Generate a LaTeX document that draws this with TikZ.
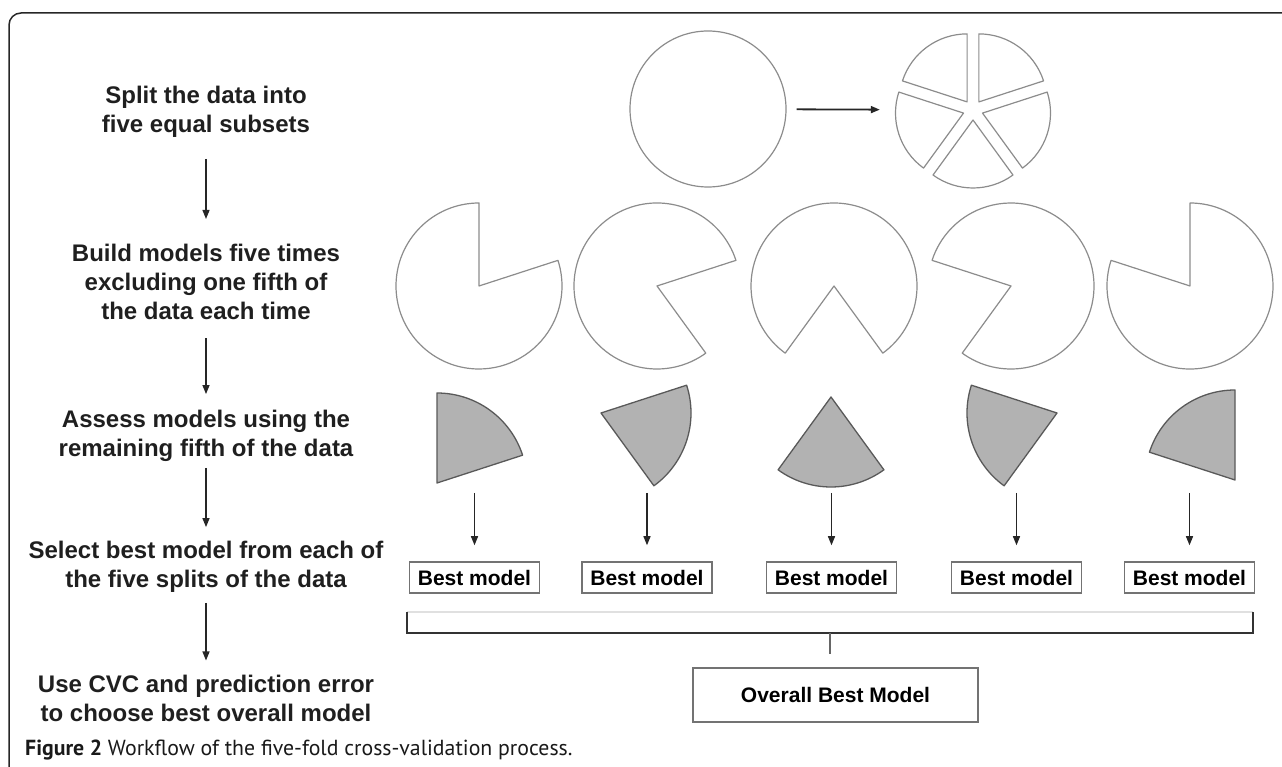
\documentclass[tikz,border=0pt]{standalone}
\usepackage{fontspec}
\setmainfont{Liberation Sans}
\newfontfamily\captionfont{PT Sans}
\usetikzlibrary{arrows.meta}

\begin{document}
\begin{tikzpicture}
[x=1pt,y=1pt,
 steptext/.style={font=\bfseries\fontsize{24}{29}\selectfont,align=center,inner sep=0pt,text=black!88},
 flow/.style={-{Triangle[length=9pt,width=7pt]},line width=1.3pt,black!85},
 piece/.style={draw=black!45,line width=1.2pt,fill=white,line join=round},
 slice/.style={draw=black!65,line width=1.3pt,fill=black!30,line join=round},
 bestbox/.style={draw=black!55,line width=1.5pt,minimum width=130pt,minimum height=31pt,inner sep=0pt,font=\bfseries\fontsize{21}{24}\selectfont},
 overallbox/.style={draw=black!55,line width=1.5pt,minimum width=285pt,minimum height=54pt,inner sep=0pt,font=\bfseries\fontsize{21}{24}\selectfont},
 bracket/.style={line width=1.4pt,black!80}]
\useasboundingbox (0,0) rectangle (1282,766);
\clip (0,0) rectangle (1282,766);
%% frame of the figure
\draw[line width=1.5pt,black!85,rounded corners=12pt] (9,-20) rectangle (1300,753);

%% steps of the workflow
\node[steptext] (step1) at (206,654) {Split the data into\\five equal subsets};
\node[steptext] (step2) at (206,484) {Build models five times\\excluding one fifth of\\the data each time};
\node[steptext] (step3) at (206,330) {Assess models using the\\remaining fifth of the data};
\node[steptext] (step4) at (206,199) {Select best model from each of\\the five splits of the data};
\node[steptext] (step5) at (206,68) {Use CVC and prediction error\\to choose best overall model};
\foreach \a/\b/\s/\e in {step1/step2/21/25, step2/step3/18/16, step3/step4/6/14, step4/step5/10/14} {
  \draw[flow,shorten <=\s pt,shorten >=\e pt] (\a) -- (\b);
}

%% the data and its five subsets
\node[circle,draw=black!45,line width=1.2pt,minimum size=156pt,inner sep=0pt] (whole) at (708,657) {};
\node[circle,minimum size=160pt,inner sep=0pt] (split) at (973,656) {};
\draw[flow,line width=1.8pt,shorten <=10pt,shorten >=13pt] (whole) -- (split);
\foreach \s in {18,90,162,234,306} {
  \draw[piece] (split.center) ++(\s+36:10) -- ++(\s:68)
    arc[start angle=\s,end angle=\s+72,radius=68] -- cycle;
}

%% models built without one fifth
\foreach \x/\s in {479/18, 657/-54, 834/234, 1011/162, 1190/90} {
  \draw[piece] (\x,480) -- ++(\s+72:83)
    arc[start angle=\s+72,end angle=\s+360,radius=83] -- cycle;
}

%% fifth left out for assessment
\foreach \x/\y/\s in {437/283/18, 601/353/-54, 831/369/234, 1057/353/162, 1235/286/90} {
  \draw[slice] (\x,\y) -- ++(\s:90)
    arc[start angle=\s,end angle=\s+72,radius=90] -- cycle;
}

%% best model of each split
\foreach \x [count=\i] in {474.5,647,831.5,1016.5,1189.5} {
  \node[bestbox] (best\i) at (\x,188.5) {Best model};
  \coordinate (tip\i) at (\x,273);
  \draw[flow,shorten >=16pt] (tip\i) -- (best\i);
}

%% bracket and overall model
\coordinate (bl) at (407,133);
\coordinate (br) at (1253,133);
\coordinate (mid) at (830,133);
\draw[black!12,line width=1.4pt] ([yshift=21pt]bl) -- ([yshift=21pt]br);
\draw[bracket] ([yshift=21pt]bl) -- (bl) -- (br) -- ([yshift=21pt]br);
\node[overallbox] (overall) at (835.5,71) {Overall Best Model};
\draw[bracket,black!60,shorten >=13pt] (mid) -- (mid |- overall.north);

%% caption
\node[anchor=west,inner sep=0pt,text=black!90,font=\captionfont\fontsize{21.8}{24}\selectfont] (caption) at (25,16)
  {\textbf{Figure 2} Workflow of the five-fold cross-validation process.};
\end{tikzpicture}
\end{document}
